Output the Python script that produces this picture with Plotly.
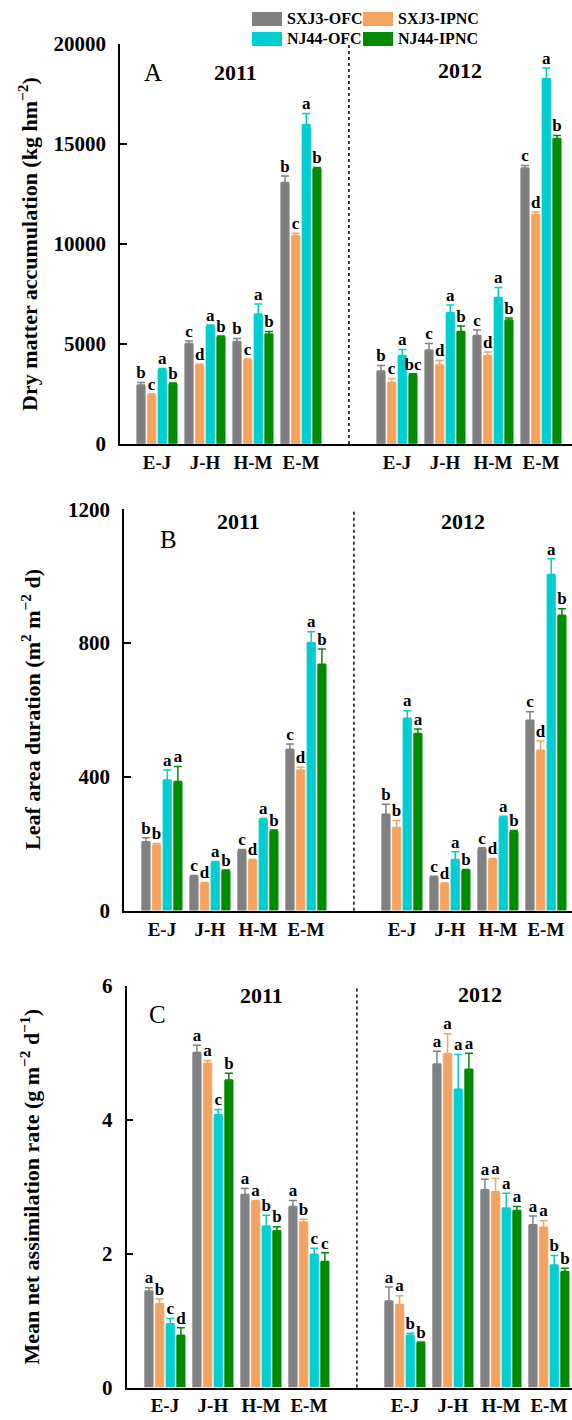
import plotly.graph_objects as go

# Growth stages (E: emergence, J: jointing, H: heading, M: maturity) and years
stages = ["E-J", "J-H", "H-M", "E-M"]
years = ["2011", "2012"]
cultivars = ["SXJ3-OFC", "SXJ3-IPNC", "NJ44-OFC", "NJ44-IPNC"]
colors = ["#808080", "#F4A460", "#00CED1", "#008B00"]

# Each row: one treatment; values ordered 2011 E-J..E-M, then 2012 E-J..E-M
dma_mean = [
    [2950, 5030, 5120, 13070, 3650, 4700, 5430, 13800],
    [2450, 3950, 4200, 10420, 3080, 3950, 4420, 11470],
    [3730, 5920, 6500, 15970, 4430, 6570, 7330, 18280],
    [3000, 5370, 5500, 13780, 3480, 5630, 6200, 15270],
]
dma_err = [
    [130, 120, 150, 330, 270, 330, 270, 130],
    [50, 40, 50, 120, 200, 220, 180, 130],
    [40, 30, 500, 550, 300, 380, 500, 520],
    [50, 30, 130, 50, 30, 270, 100, 150],
]
dma_sig = [
    ["b", "c", "b", "b", "b", "c", "c", "c"],
    ["c", "d", "c", "c", "c", "d", "d", "d"],
    ["a", "a", "a", "a", "a", "a", "a", "a"],
    ["b", "b", "b", "b", "bc", "b", "b", "b"],
]

lad_mean = [
    [206, 102, 180, 483, 288, 100, 185, 569],
    [196, 82, 151, 421, 249, 81, 154, 480],
    [391, 144, 273, 802, 575, 153, 280, 1005],
    [386, 120, 238, 737, 530, 121, 236, 883],
]
lad_err = [
    [12, 3, 3, 15, 30, 3, 3, 26],
    [5, 2, 2, 8, 21, 2, 2, 27],
    [30, 3, 3, 32, 23, 23, 2, 47],
    [45, 2, 3, 45, 13, 2, 4, 20],
]
lad_sig = [
    ["b", "c", "c", "c", "b", "c", "c", "c"],
    ["b", "d", "d", "d", "b", "d", "d", "d"],
    ["a", "a", "a", "a", "a", "a", "a", "a"],
    ["a", "b", "b", "b", "a", "b", "b", "b"],
]

nar_mean = [
    [1.44, 5.00, 2.88, 2.70, 1.29, 4.83, 2.95, 2.43],
    [1.25, 4.84, 2.78, 2.47, 1.24, 4.98, 2.92, 2.39],
    [0.95, 4.07, 2.41, 1.99, 0.78, 4.45, 2.68, 1.83],
    [0.78, 4.59, 2.34, 1.88, 0.67, 4.75, 2.64, 1.73],
]
nar_err = [
    [0.05, 0.11, 0.09, 0.09, 0.21, 0.19, 0.16, 0.13],
    [0.07, 0.04, 0.01, 0.04, 0.13, 0.30, 0.20, 0.10],
    [0.08, 0.08, 0.16, 0.09, 0.03, 0.52, 0.22, 0.14],
    [0.11, 0.10, 0.06, 0.13, 0.01, 0.24, 0.06, 0.05],
]
nar_sig = [
    ["a", "a", "a", "a", "a", "a", "a", "a"],
    ["b", "a", "a", "b", "a", "a", "a", "a"],
    ["c", "c", "b", "c", "b", "a", "a", "b"],
    ["d", "b", "b", "c", "b", "a", "a", "b"],
]

y_titles = [
    "Dry matter accumulation (kg hm<sup>\u22122</sup>)",
    "Leaf area duration (m<sup>2</sup> m<sup>\u22122</sup> d)",
    "Mean net assimilation rate (g m<sup>\u22122</sup> d<sup>\u22121</sup>)",
]
panel_tags = ["A", "B", "C"]
y_ranges = [(0, 20000), (0, 1200), (0, 6)]
y_ticks = [[0, 5000, 10000, 15000, 20000], [0, 400, 800, 1200], [0, 2, 4, 6]]

W, H = 572, 1420
FONT = "Liberation Serif"

# group positions on a numeric axis, with one empty slot between the years
group_x = [0, 1, 2, 3, 5, 6, 7, 8]
divider_x = 4
pitch = 0.222
bar_w = 0.2

# pixel layout of each panel: left edge of axis, top and bottom of plot area
panels_px = [
    dict(left=120, top=44, bottom=444, x0=-0.77, title_x=28, tag=(153, 72),
         yr=[(235, 72), (460, 70)]),
    dict(left=124, top=509.3, bottom=910.7, x0=-0.79, title_x=31, tag=(168, 540),
         yr=[(238, 521), (463, 521)]),
    dict(left=126.5, top=985.5, bottom=1387.5, x0=-0.80, title_x=29, tag=(157, 1014),
         yr=[(261, 996), (480, 995)]),
]

means = [dma_mean, lad_mean, nar_mean]
errs = [dma_err, lad_err, nar_err]
sigs = [dma_sig, lad_sig, nar_sig]

fig = go.Figure()
layout = dict(
    width=W, height=H, margin=dict(l=0, r=0, t=0, b=0, pad=0, autoexpand=False),
    plot_bgcolor="white", paper_bgcolor="white",
    showlegend=False, barmode="overlay",
    font=dict(family=FONT, color="black"),
)
shapes = []
annotations = []

def px_x(p):
    return p / W

def px_y(p):
    return 1 - p / H

for k in range(3):
    P = panels_px[k]
    sfx = "" if k == 0 else str(k + 1)
    xa, ya = "x" + sfx, "y" + sfx
    x1 = P["x0"] + (W - P["left"]) / 48.0
    layout["xaxis" + sfx] = dict(
        domain=[px_x(P["left"]), 1.0], range=[P["x0"], x1], automargin=False,
        showline=True, linecolor="black", linewidth=2, ticks="",
        tickvals=group_x, ticktext=stages * 2, showgrid=False, zeroline=False,
        tickfont=dict(family=FONT, size=19, weight="bold"),
        ticklabelstandoff=0, anchor=ya, fixedrange=True,
    )
    layout["yaxis" + sfx] = dict(
        domain=[px_y(P["bottom"]), px_y(P["top"])], range=list(y_ranges[k]),
        automargin=False,
        showline=True, linecolor="black", linewidth=1.5, ticks="inside",
        ticklen=7, tickwidth=1.5, tickcolor="black", tickvals=y_ticks[k],
        ticktext=[str(v) for v in y_ticks[k]],
        showgrid=False, zeroline=False, anchor=xa,
        tickfont=dict(family=FONT, size=21, weight="bold"),
        ticklabelstandoff=8, fixedrange=True,
    )

    for i in range(4):
        center = (i - 1.5) * pitch
        vals = means[k][i]
        e = errs[k][i]
        fig.add_trace(go.Bar(
            x=group_x, y=vals, width=bar_w, offset=center - bar_w / 2,
            marker=dict(color=colors[i], line=dict(color="rgba(255,255,255,0.45)", width=0.8)),
            error_y=dict(type="data", array=e, arrayminus=[0] * len(e), symmetric=False,
                         color=colors[i], thickness=1.5, width=4),
            name=cultivars[i], xaxis=xa, yaxis=ya,
        ))
        fig.add_trace(go.Scatter(
            x=[g + center for g in group_x],
            y=[v + d for v, d in zip(vals, e)],
            mode="text", text=sigs[k][i], textposition="top center",
            textfont=dict(family=FONT, size=17, weight="bold", color="black"),
            cliponaxis=False, hoverinfo="skip", xaxis=xa, yaxis=ya,
        ))

    # dotted divider between the two seasons
    shapes.append(dict(type="line", xref=xa, yref=ya + " domain", x0=divider_x, x1=divider_x,
                       y0=0, y1=1, line=dict(color="black", width=1.5, dash="dot")))

    annotations.append(dict(
        text="<b>" + y_titles[k] + "</b>", textangle=-90, xref="paper", yref="paper",
        x=px_x(P["title_x"]), y=px_y((P["top"] + P["bottom"]) / 2),
        xanchor="center", yanchor="middle", showarrow=False,
        font=dict(family=FONT, size=22, color="black"),
    ))
    annotations.append(dict(
        text=panel_tags[k], xref="paper", yref="paper",
        x=px_x(P["tag"][0]), y=px_y(P["tag"][1]), xanchor="center", yanchor="middle",
        showarrow=False, font=dict(family=FONT, size=25, color="black"),
    ))
    for j, yr in enumerate(years):
        annotations.append(dict(
            text="<b>" + yr + "</b>", xref="paper", yref="paper",
            x=px_x(P["yr"][j][0]), y=px_y(P["yr"][j][1]), xanchor="center", yanchor="middle",
            showarrow=False, font=dict(family=FONT, size=22, color="black"),
        ))

# legend block at the top of the figure
legend_slots = [(252, 12), (363, 12), (252, 32), (363, 32)]
for i, name in enumerate(cultivars):
    lx, ly = legend_slots[i]
    shapes.append(dict(type="rect", xref="paper", yref="paper",
                       x0=px_x(lx), x1=px_x(lx + 30), y0=px_y(ly + 14), y1=px_y(ly),
                       fillcolor=colors[i], line=dict(width=0)))
    annotations.append(dict(
        text="<b>" + name + "</b>", xref="paper", yref="paper",
        x=px_x(lx + 33), y=px_y(ly + 7), xanchor="left", yanchor="middle",
        showarrow=False, font=dict(family=FONT, size=16, color="black"),
    ))

layout["shapes"] = shapes
layout["annotations"] = annotations
fig.update_layout(**layout)
fig.write_html("out.html")
